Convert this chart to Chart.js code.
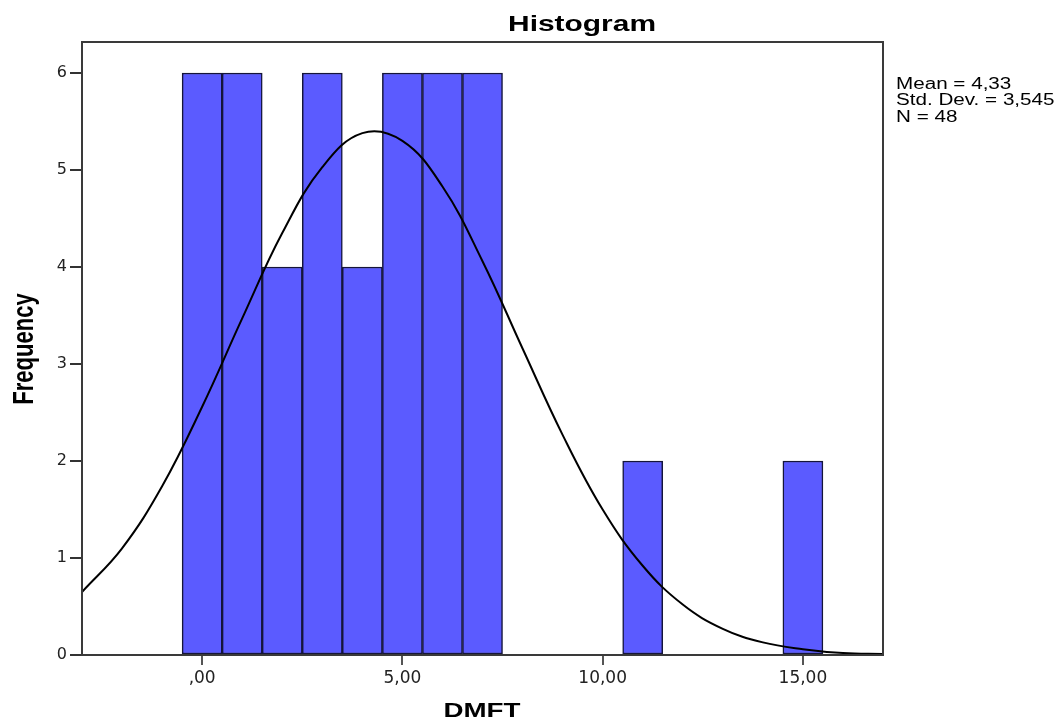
<!DOCTYPE html>
<html>
<head>
<meta charset="utf-8">
<title>Histogram</title>
<script src="https://cdn.jsdelivr.net/npm/chart.js@4/dist/chart.umd.min.js"></script>
<style>
    html, body { margin: 0; padding: 0; background: #fff; }
    #wrap { width: 1059px; height: 722px; }
</style>
</head>
<body>
<div id="wrap"><canvas id="histogram-chart" width="1059" height="722"></canvas></div>
<script>
// Histogram bins (DMFT value at the centre of each bar) and their counts
const binCentres = [0, 1, 2, 3, 4, 5, 6, 7, 11, 15];
const binCounts = [6, 6, 4, 6, 4, 6, 6, 6, 2, 2];

// Normal curve at each whole DMFT value
const curveX = [-3, -2, -1, 0, 1, 2, 3, 4, 5, 6, 7, 8, 9, 10, 11, 12, 13, 14, 15, 16, 17];
const curveY = [0.65, 1.10, 1.74, 2.56, 3.47, 4.35, 5.03, 5.38, 5.30, 4.83, 4.06, 3.16, 2.27, 1.50, 0.92, 0.52, 0.27, 0.13, 0.06, 0.02, 0.01];

// Axis ticks
const xTicks = [0, 5, 10, 15];
const xTickLabels = [",00", "5,00", "10,00", "15,00"];
const yTicks = [0, 1, 2, 3, 4, 5, 6];

// Text around the plot
const chartTitle = "Histogram";
const xTitle = "DMFT";
const yTitle = "Frequency";
const statLines = ["Mean = 4,33", "Std. Dev. = 3,545", "N = 48"];

// SPSS output is a bit wider than normal text, so stretch it sideways
function drawStretched(ctx, text, x, y, font, sx, sy, align, angle) {
    ctx.save();
    ctx.font = font;
    ctx.fillStyle = "#000";
    ctx.textAlign = align;
    ctx.textBaseline = "alphabetic";
    ctx.translate(x, y);
    if (angle) ctx.rotate(angle);
    ctx.scale(sx, sy);
    ctx.fillText(text, 0, 0);
    ctx.restore();
}

// Frame round the plot plus the titles and the stats box
const spssDecor = {
    id: "spssDecor",
    afterDraw(chart) {
        const ctx = chart.ctx;
        const area = chart.chartArea;

        ctx.save();
        ctx.strokeStyle = "#3a3a3a";
        ctx.lineWidth = 2;
        ctx.strokeRect(area.left, area.top, area.right - area.left, area.bottom - area.top);
        ctx.restore();

        drawStretched(ctx, chartTitle, 582, 31, "bold 22px 'Liberation Sans', Arial, sans-serif", 1.36, 1, "center");
        drawStretched(ctx, xTitle, 482, 717, "bold 21px 'Liberation Sans', Arial, sans-serif", 1.32, 1, "center");
        drawStretched(ctx, yTitle, 33, 349, "bold 22px 'Liberation Sans', Arial, sans-serif", 1, 1.37, "center", -Math.PI / 2);

        statLines.forEach((line, i) => {
            drawStretched(ctx, line, 896, 89 + i * 16.3, "16px 'Liberation Sans', Arial, sans-serif", 1.29, 1, "left");
        });
    },
};

const ctx = document.getElementById("histogram-chart").getContext("2d");
new Chart(ctx, {
    type: "bar",
    data: {
        datasets: [
            {
                type: "line",
                data: curveX.map((x, i) => ({ x: x, y: curveY[i] })),
                borderColor: "#000",
                borderWidth: 2,
                pointRadius: 0,
                tension: 0.4,
                fill: false,
                order: 0,
            },
            {
                type: "bar",
                data: binCentres.map((x, i) => ({ x: x, y: binCounts[i] })),
                backgroundColor: "#5b5bff",
                borderColor: "#15153a",
                borderWidth: 1.5,
                borderSkipped: false,
                barPercentage: 1,
                categoryPercentage: 1,
                order: 1,
            },
        ],
    },
    options: {
        responsive: false,
        animation: false,
        devicePixelRatio: 1,
        layout: {
            padding: { top: 42, right: 176, left: 0, bottom: 0 },
        },
        plugins: {
            legend: { display: false },
            tooltip: { enabled: false },
            title: { display: false },
        },
        scales: {
            x: {
                type: "linear",
                min: -3,
                max: 17,
                offset: false,
                border: { display: false },
                grid: {
                    offset: false,
                    drawOnChartArea: false,
                    drawTicks: true,
                    tickLength: 10,
                    color: "#555",
                    lineWidth: 2,
                },
                ticks: {
                    color: "#222",
                    font: { family: "'DejaVu Sans', sans-serif", size: 17 },
                    padding: 3,
                    maxRotation: 0,
                    callback: (value) => {
                        const idx = xTicks.indexOf(value);
                        return idx >= 0 ? xTickLabels[idx] : "";
                    },
                },
                afterBuildTicks: (scale) => {
                    scale.ticks = xTicks.map((v) => ({ value: v }));
                },
                afterFit: (scale) => {
                    scale.height = 67;
                },
            },
            y: {
                type: "linear",
                min: 0,
                max: 6.32,
                border: { display: false },
                grid: {
                    drawOnChartArea: false,
                    drawTicks: true,
                    tickLength: 12,
                    color: "#333",
                    lineWidth: 2,
                },
                ticks: {
                    color: "#222",
                    font: { family: "'DejaVu Sans', sans-serif", size: 16 },
                    padding: 3,
                },
                afterBuildTicks: (scale) => {
                    scale.ticks = yTicks.map((v) => ({ value: v }));
                },
                afterFit: (scale) => {
                    scale.width = 82;
                },
            },
        },
    },
    plugins: [spssDecor],
});
</script>
</body>
</html>
